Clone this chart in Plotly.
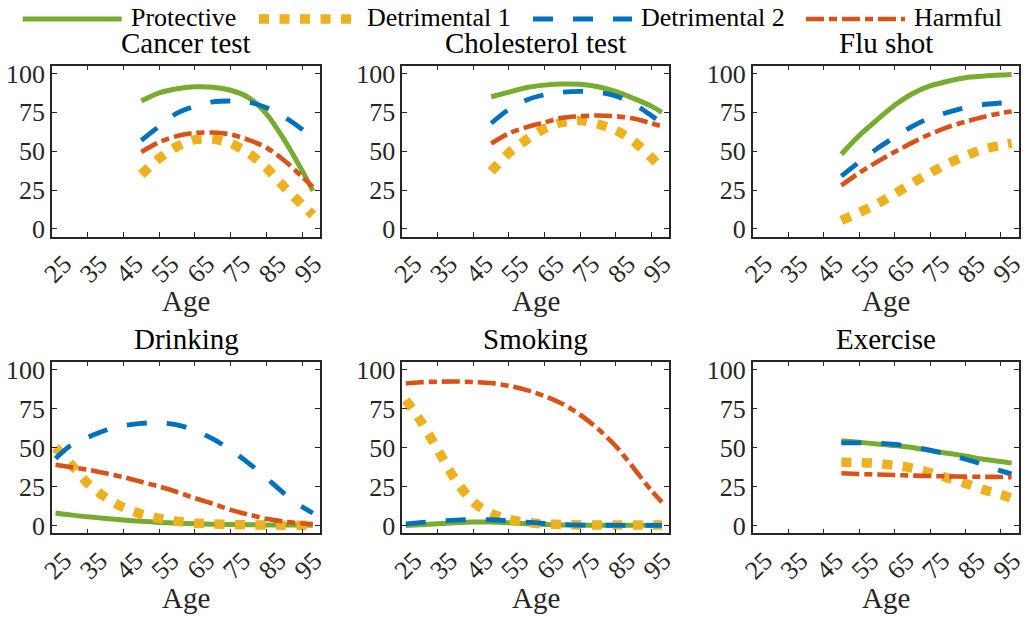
import plotly.graph_objects as go

# ---- data -------------------------------------------------------------
AGE_OLD = [50, 55, 60, 65, 70, 75, 80, 85, 90, 95, 98]
AGE_ALL = [26, 30, 35, 40, 45, 50, 55, 60, 65, 70, 75, 80, 85, 90, 95, 98]

SERIES = ["Protective", "Detrimental 1", "Detrimental 2", "Harmful"]
PANELS = ["Cancer test", "Cholesterol test", "Flu shot", "Drinking", "Smoking", "Exercise"]

cancer_protective = [82.3, 87.5, 90.2, 91.4, 91.2, 89.2, 84.5, 74, 57.3, 37.5, 24.5]
cancer_det1 = [35, 45.4, 53, 57.4, 57.8, 55, 48.8, 39.3, 27, 15.5, 9]
cancer_det2 = [57, 66, 74.5, 79, 81.8, 82.3, 81.6, 78, 72, 64, 58]
cancer_harmful = [49.5, 55.8, 59.8, 61.8, 62, 60.8, 57.3, 52.3, 44, 33.5, 27]

chol_protective = [85, 88, 91, 92.5, 93.2, 93, 91.5, 88.5, 84, 79, 75]
chol_det1 = [37, 49, 57.5, 64.5, 68.5, 69.8, 67.5, 63.5, 56.5, 46, 39]
chol_det2 = [68, 77, 83, 86.3, 88, 88.5, 88, 85.5, 80.5, 73, 68]
chol_harmful = [55, 61.5, 65.5, 68.5, 71.5, 72.5, 73, 72.5, 71, 68, 66]

flu_protective = [48, 60, 70, 79.5, 87, 92, 95, 97.3, 98.3, 99, 99.3]
flu_det1 = [5.5, 10.5, 16, 22.5, 29.5, 36, 42, 47, 51.3, 53.7, 55]
flu_det2 = [34, 43, 51.5, 59, 66, 71.5, 75, 78, 80, 81, 81.5]
flu_harmful = [28, 36, 43, 49.5, 55.5, 61, 65.5, 69, 72, 74.5, 75.5]

drink_protective = [8, 6.8, 5.6, 4.5, 3.5, 2.7, 2, 1.5, 1.1, 0.8, 0.6, 0.5, 0.4, 0.3, 0.3, 0.2]
drink_det1 = [50, 40, 27, 18, 11.5, 7.3, 4.5, 2.7, 1.5, 1, 0.6, 0.4, 0.3, 0.2, 0.1, 0.1]
drink_det2 = [43, 51, 56.5, 61, 64, 65.5, 65.8, 64.5, 61, 55.5, 48.5, 40, 30.5, 20.5, 12, 8]
drink_harmful = [39, 37.5, 35.8, 33.5, 31, 28, 25, 21.5, 17.5, 14, 10, 7, 4.3, 2.5, 1.3, 1]

smoke_protective = [0, 0.5, 1.2, 1.8, 2.2, 2.2, 1.7, 1.2, 0.7, 0.4, 0.2, 0.1, 0.1, 0.1, 0.1, 0.1]
smoke_det1 = [80.5, 67.5, 48.5, 29, 15, 7.6, 4, 2, 1, 0.6, 0.4, 0.3, 0.3, 0.3, 0.3, 0.3]
smoke_det2 = [1, 1.8, 2.8, 3.5, 3.8, 3.7, 3, 2.2, 1.3, 0.7, 0.3, 0.2, 0.1, 0.1, 0.1, 0.1]
smoke_harmful = [91, 91.8, 92.2, 92.3, 92, 91.3, 89.5, 86.8, 83, 78, 71, 62, 51, 37, 22.5, 15]

exer_protective = [54.3, 53.3, 52.3, 51.3, 50, 48, 46.3, 44.5, 42.5, 41, 40]
exer_det1 = [40.5, 40.3, 39.8, 38.5, 36.8, 34, 30.5, 27, 23, 19.8, 17.5]
exer_det2 = [53, 53, 52.8, 52, 50.5, 48.3, 45.5, 42.5, 39, 35, 33]
exer_harmful = [33.5, 33, 32.7, 32.4, 32, 31.7, 31.5, 31.3, 31.2, 31.1, 31]

X_TICKS = [25, 35, 45, 55, 65, 75, 85, 95]
Y_TICKS = [0, 25, 50, 75, 100]

panel_data = [
    (AGE_OLD, [cancer_protective, cancer_det1, cancer_det2, cancer_harmful]),
    (AGE_OLD, [chol_protective, chol_det1, chol_det2, chol_harmful]),
    (AGE_OLD, [flu_protective, flu_det1, flu_det2, flu_harmful]),
    (AGE_ALL, [drink_protective, drink_det1, drink_det2, drink_harmful]),
    (AGE_ALL, [smoke_protective, smoke_det1, smoke_det2, smoke_harmful]),
    (AGE_OLD, [exer_protective, exer_det1, exer_det2, exer_harmful]),
]

# ---- styling ----------------------------------------------------------
W, H = 1026, 618
FONT = "Times New Roman, Liberation Serif, serif"
INK = "#262626"
styles = [
    dict(color="#77AC30", width=5, dash="solid"),
    dict(color="#EDB120", width=9.5, dash="10px,10.5px"),
    dict(color="#0072BD", width=4.8, dash="20px,20px"),
    dict(color="#D95319", width=4.6, dash="18px,5px,8px,5px"),
]

col_px = [(52, 320), (402.3, 669), (752.7, 1018.7)]
row_px = [(65.7, 236.7), (361.7, 533.3)]

fig = go.Figure()
layout = {}
annotations = []
shapes = []

for i, (title, (ages, series)) in enumerate(zip(PANELS, panel_data)):
    r, c = divmod(i, 3)
    n = "" if i == 0 else str(i + 1)
    x0, x1 = col_px[c]
    y0, y1 = row_px[r]
    for s, (name, vals) in enumerate(zip(SERIES, series)):
        fig.add_trace(go.Scatter(
            x=ages, y=vals, name=name, mode="lines",
            line=dict(shape="spline", smoothing=0.8, **styles[s]),
            showlegend=False, xaxis="x" + n, yaxis="y" + n,
        ))
    layout["xaxis" + n] = dict(
        domain=[x0 / W, x1 / W], anchor="y" + n, range=[25, 100],
        tickvals=X_TICKS, tickangle=-45, ticks="inside", ticklen=5,
        ticklabelshift=12, ticklabeloverflow="allow",
        tickcolor=INK, tickwidth=1.2, showline=True, linecolor=INK,
        linewidth=1.5, mirror="ticks", showgrid=False, zeroline=False,
        automargin=False, tickfont=dict(family=FONT, size=26, color=INK),
    )
    layout["yaxis" + n] = dict(
        domain=[1 - y1 / H, 1 - y0 / H], anchor="x" + n, range=[-5, 105],
        tickvals=Y_TICKS, ticks="inside", ticklen=5, tickcolor=INK,
        tickwidth=1.2, showline=True, linecolor=INK, linewidth=1.5,
        mirror="ticks", showgrid=False, zeroline=False, automargin=False,
        tickfont=dict(family=FONT, size=26, color=INK),
    )
    cx = (x0 + x1) / 2 / W
    title_y = 43.5 if r == 0 else 338.5
    age_y = 301 if r == 0 else 598
    annotations.append(dict(text=title, x=cx, y=1 - title_y / H, xref="paper",
                            yref="paper", xanchor="center", yanchor="middle",
                            showarrow=False, font=dict(family=FONT, size=29, color="black")))
    annotations.append(dict(text="Age", x=cx, y=1 - age_y / H, xref="paper",
                            yref="paper", xanchor="center", yanchor="middle",
                            showarrow=False, font=dict(family=FONT, size=29, color=INK)))

# legend row across the top: sample line + label for each series
legend_starts = [22.7, 259, 533, 806]
LEG_Y = 19
for s, name in enumerate(SERIES):
    lx = legend_starts[s]
    st = styles[s]
    shapes.append(dict(type="line", xref="paper", yref="paper",
                       x0=lx / W, x1=(lx + 99) / W, y0=1 - LEG_Y / H, y1=1 - LEG_Y / H,
                       line=dict(color=st["color"], width=st["width"], dash=st["dash"])))
    annotations.append(dict(text=name, x=(lx + 106) / W, y=1 - 18 / H, xref="paper",
                            yref="paper", xanchor="left", yanchor="middle",
                            showarrow=False, font=dict(family=FONT, size=26, color="black")))

fig.update_layout(
    template="none",
    width=W, height=H, margin=dict(l=0, r=0, t=0, b=0, autoexpand=False),
    plot_bgcolor="white", paper_bgcolor="white",
    font=dict(family=FONT, size=26, color=INK),
    showlegend=False,
    annotations=annotations, shapes=shapes,
    **layout,
)

fig.write_html("out.html")
